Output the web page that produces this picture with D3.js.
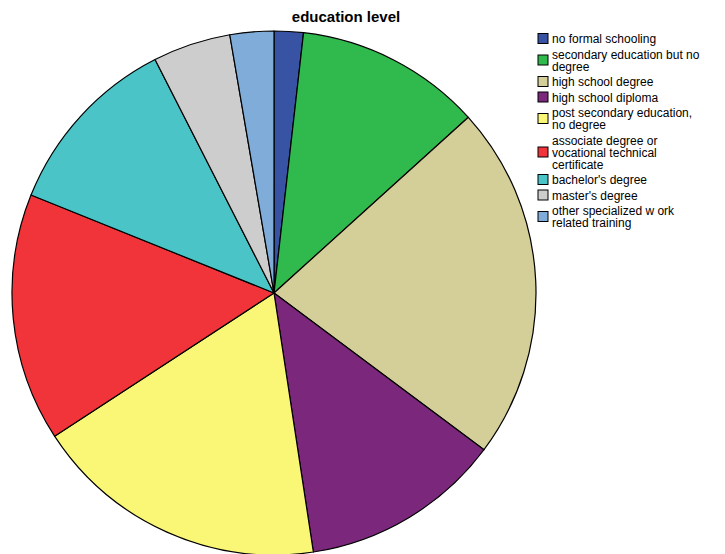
<!DOCTYPE html>
<html>
<head>
<meta charset="utf-8">
<script src="https://cdn.jsdelivr.net/npm/d3@7"></script>
<style>
  html, body { margin: 0; padding: 0; background: #fff; }
  svg { display: block; font-family: Arial, "Liberation Sans", sans-serif; }
</style>
</head>
<body>
<svg id="chart" width="725" height="554"></svg>
<script>
// Education level shares (percent of respondents)
const categories = [
  "no formal schooling",
  "secondary education but no degree",
  "high school degree",
  "high school diploma",
  "post secondary education, no degree",
  "associate degree or vocational technical certificate",
  "bachelor's degree",
  "master's degree",
  "other specialized w ork related training"
];
const values = [1.8, 11.5, 21.9, 12.4, 18.2, 15.3, 11.4, 4.8, 2.7];
const colors = ["#3953a4", "#30b94c", "#d4ce98", "#7b287c", "#fbf776",
                "#f0343a", "#4bc4c8", "#cdcdcd", "#7facd8"];
// Legend text split into lines
const legendLines = [
  ["no formal schooling"],
  ["secondary education but no", "degree"],
  ["high school degree"],
  ["high school diploma"],
  ["post secondary education,", "no degree"],
  ["associate degree or", "vocational technical", "certificate"],
  ["bachelor's degree"],
  ["master's degree"],
  ["other specialized w ork", "related training"]
];

const svg = d3.select("#chart");
const cx = 274, cy = 293, r = 262;

const data = categories.map((c, i) => ({ name: c, value: values[i], color: colors[i] }));

const pie = d3.pie().sort(null).value(d => d.value);
const arc = d3.arc().innerRadius(0).outerRadius(r);

svg.append("g")
  .attr("transform", `translate(${cx},${cy})`)
  .selectAll("path")
  .data(pie(data))
  .join("path")
  .attr("d", arc)
  .attr("fill", d => d.data.color)
  .attr("stroke", "#000")
  .attr("stroke-width", 1.2)
  .attr("stroke-linejoin", "round");

svg.append("text")
  .attr("x", 346)
  .attr("y", 22)
  .attr("text-anchor", "middle")
  .attr("font-size", 15)
  .attr("font-weight", "bold")
  .text("education level");

// Legend
const lineH = 12;
const legend = svg.append("g");
let y = 39;
legendLines.forEach((lines, i) => {
  const n = lines.length;
  const mid = y + (n - 1) * lineH / 2;
  legend.append("rect")
    .attr("x", 538).attr("y", mid - 5.5)
    .attr("width", 10).attr("height", 10)
    .attr("fill", colors[i])
    .attr("stroke", "#000").attr("stroke-width", 1);
  const t = legend.append("text")
    .attr("font-size", 12)
    .attr("fill", "#000");
  lines.forEach((ln, k) => {
    t.append("tspan")
      .attr("x", 552)
      .attr("y", y + k * lineH + 4)
      .text(ln);
  });
  y += n * lineH + 3.5;
});
</script>
</body>
</html>
